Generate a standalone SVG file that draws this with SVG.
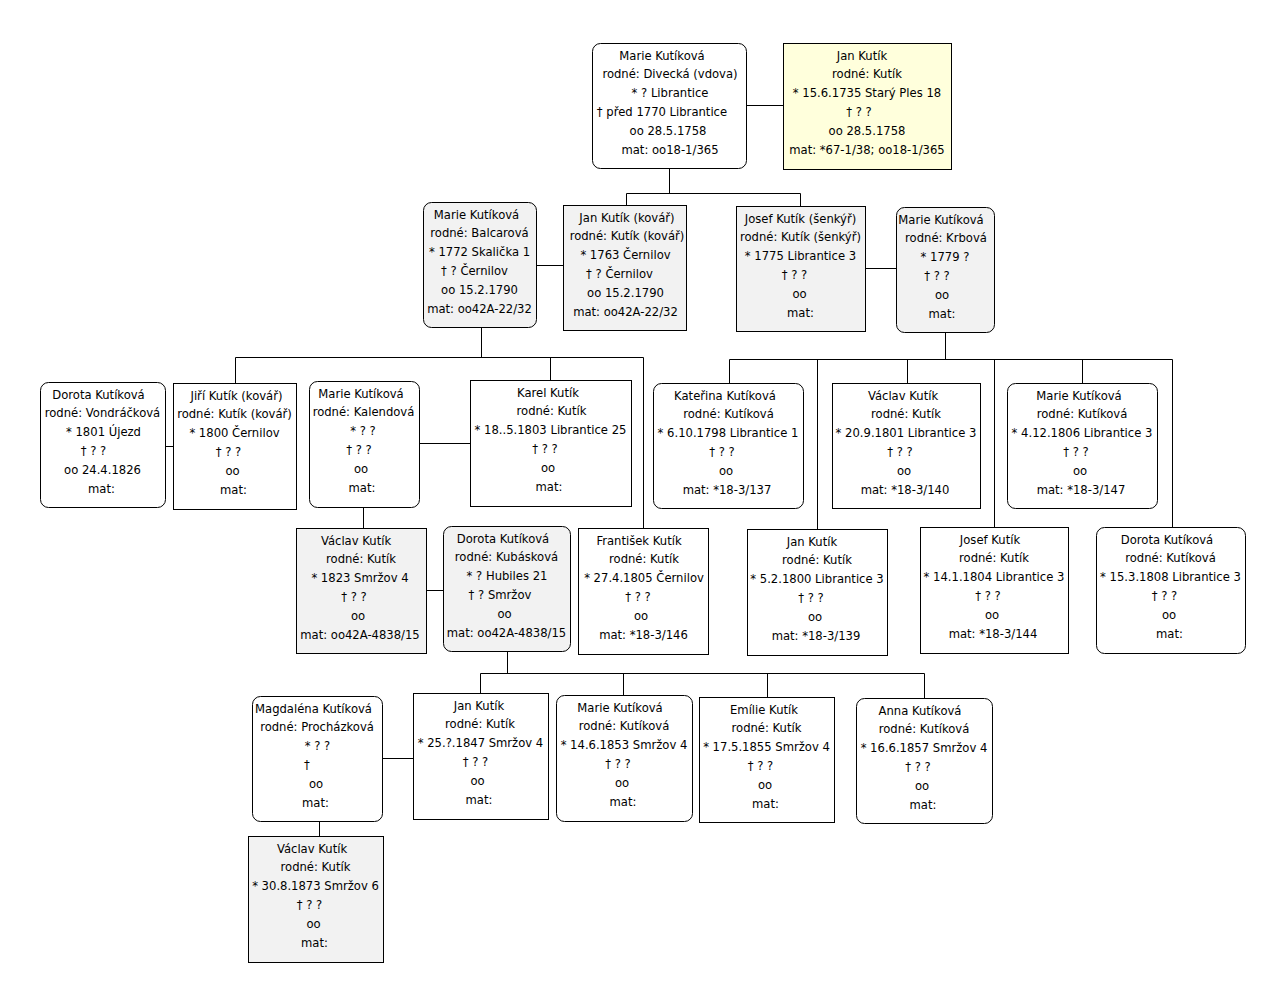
<svg xmlns="http://www.w3.org/2000/svg" width="1266" height="983" viewBox="0 0 1266 983">
<style>
.r{stroke:#000;stroke-width:1;fill:#fff}
.g{fill:#f2f2f2}
.y{fill:#ffffdc}
.t{font-family:"DejaVu Sans",Tahoma,Verdana,sans-serif;font-size:11.6px;fill:#000;text-anchor:middle}
.c{stroke:#000;stroke-width:1;fill:none}
</style>
<rect width="1266" height="983" fill="#fff"/>
<g id="connectors" class="c">
<path d="M746.5 105.5H783.5"/>
<path d="M669.5 168.5V193.5M626.5 193.5H800.5M626.5 193.5V205.5M800.5 193.5V206.5"/>
<path d="M536.5 265.5H563.5"/>
<path d="M865.5 268.5H896.5"/>
<path d="M481.5 327.5V357.5M235.5 357.5H643.5M235.5 357.5V383.5M550.5 357.5V380.5M643.5 357.5V528.5"/>
<path d="M945.5 332.5V359.5M729.5 359.5H1172.5M729.5 359.5V383.5M817.5 359.5V529.5M907.5 359.5V383.5M994.5 359.5V527.5M1082.5 359.5V383.5M1172.5 359.5V527.5"/>
<path d="M165.5 446.5H173.5"/>
<path d="M419.5 443.5H470.5"/>
<path d="M363.5 507.5V528.5"/>
<path d="M426.5 590.5H443.5"/>
<path d="M507.5 651.5V673.5M480.5 673.5H924.5M480.5 673.5V693.5M623.5 673.5V695.5M767.5 673.5V697.5M924.5 673.5V698.5"/>
<path d="M382.5 758.5H413.5"/>
<path d="M319.5 821.5V836.5"/>
</g>

<g id="n_marie_divecka"><rect class="r" x="592.5" y="43.5" width="154" height="125" rx="8"/>
<text class="t" y="59.5"><tspan x="662">Marie Kutíková</tspan><tspan x="670" dy="18.9">rodné: Divecká (vdova)</tspan><tspan x="670" dy="18.9">* ? Librantice</tspan><tspan x="662" dy="18.9">† před 1770 Librantice</tspan><tspan x="668" dy="18.9">oo 28.5.1758</tspan><tspan x="670" dy="18.9">mat: oo18-1/365</tspan></text></g>

<g id="n_jan_1735"><rect class="r y" x="783.5" y="43.5" width="168" height="126"/>
<text class="t" y="59.5"><tspan x="862">Jan Kutík</tspan><tspan x="867" dy="18.9">rodné: Kutík</tspan><tspan x="867" dy="18.9">* 15.6.1735 Starý Ples 18</tspan><tspan x="859" dy="18.9">† ? ?</tspan><tspan x="867" dy="18.9">oo 28.5.1758</tspan><tspan x="867" dy="18.9">mat: *67-1/38; oo18-1/365</tspan></text></g>

<g id="n_marie_balcarova"><rect class="r g" x="423.5" y="202.5" width="113" height="125" rx="8"/>
<text class="t" y="218.5"><tspan x="476.5">Marie Kutíková</tspan><tspan x="479.5" dy="18.9">rodné: Balcarová</tspan><tspan x="479.5" dy="18.9">* 1772 Skalička 1</tspan><tspan x="474.5" dy="18.9">† ? Černilov</tspan><tspan x="479.5" dy="18.9">oo 15.2.1790</tspan><tspan x="479.5" dy="18.9">mat: oo42A-22/32</tspan></text></g>

<g id="n_jan_kovar"><rect class="r g" x="563.5" y="205.5" width="123" height="125"/>
<text class="t" y="221.5"><tspan x="627">Jan Kutík (kovář)</tspan><tspan x="627" dy="18.9">rodné: Kutík (kovář)</tspan><tspan x="625.5" dy="18.9">* 1763 Černilov</tspan><tspan x="619.5" dy="18.9">† ? Černilov</tspan><tspan x="625.5" dy="18.9">oo 15.2.1790</tspan><tspan x="625.5" dy="18.9">mat: oo42A-22/32</tspan></text></g>

<g id="n_josef_senkyr"><rect class="r g" x="736.5" y="206.5" width="129" height="125"/>
<text class="t" y="222.5"><tspan x="800.5">Josef Kutík (šenkýř)</tspan><tspan x="800.5" dy="18.9">rodné: Kutík (šenkýř)</tspan><tspan x="800.5" dy="18.9">* 1775 Librantice 3</tspan><tspan x="794.5" dy="18.9">† ? ?</tspan><tspan x="799.5" dy="18.9">oo</tspan><tspan x="800.5" dy="18.9">mat:</tspan></text></g>

<g id="n_marie_krbova"><rect class="r g" x="896.5" y="207.5" width="98" height="125" rx="8"/>
<text class="t" y="223.5"><tspan x="941">Marie Kutíková</tspan><tspan x="946" dy="18.9">rodné: Krbová</tspan><tspan x="945" dy="18.9">* 1779 ?</tspan><tspan x="937" dy="18.9">† ? ?</tspan><tspan x="942" dy="18.9">oo</tspan><tspan x="942" dy="18.9">mat:</tspan></text></g>

<g id="n_dorota_vondrackova"><rect class="r" x="40.5" y="382.5" width="125" height="125" rx="8"/>
<text class="t" y="398.5"><tspan x="98.5">Dorota Kutíková</tspan><tspan x="102.5" dy="18.9">rodné: Vondráčková</tspan><tspan x="103.5" dy="18.9">* 1801 Újezd</tspan><tspan x="93.5" dy="18.9">† ? ?</tspan><tspan x="102.5" dy="18.9">oo 24.4.1826</tspan><tspan x="101.5" dy="18.9">mat:</tspan></text></g>

<g id="n_jiri_kovar"><rect class="r" x="173.5" y="383.5" width="123" height="126"/>
<text class="t" y="399.5"><tspan x="236.5">Jiří Kutík (kovář)</tspan><tspan x="234.5" dy="18.9">rodné: Kutík (kovář)</tspan><tspan x="234.5" dy="18.9">* 1800 Černilov</tspan><tspan x="228.5" dy="18.9">† ? ?</tspan><tspan x="232.5" dy="18.9">oo</tspan><tspan x="233.5" dy="18.9">mat:</tspan></text></g>

<g id="n_marie_kalendova"><rect class="r" x="309.5" y="381.5" width="110" height="126" rx="8"/>
<text class="t" y="397.5"><tspan x="361">Marie Kutíková</tspan><tspan x="363.5" dy="18.9">rodné: Kalendová</tspan><tspan x="363" dy="18.9">* ? ?</tspan><tspan x="359" dy="18.9">† ? ?</tspan><tspan x="361" dy="18.9">oo</tspan><tspan x="362" dy="18.9">mat:</tspan></text></g>

<g id="n_karel"><rect class="r" x="470.5" y="380.5" width="161" height="126"/>
<text class="t" y="396.5"><tspan x="548">Karel Kutík</tspan><tspan x="551.5" dy="18.9">rodné: Kutík</tspan><tspan x="550.5" dy="18.9">* 18..5.1803 Librantice 25</tspan><tspan x="545" dy="18.9">† ? ?</tspan><tspan x="548" dy="18.9">oo</tspan><tspan x="549" dy="18.9">mat:</tspan></text></g>

<g id="n_katerina"><rect class="r" x="653.5" y="383.5" width="150" height="125" rx="8"/>
<text class="t" y="399.5"><tspan x="725">Kateřina Kutíková</tspan><tspan x="728.5" dy="18.9">rodné: Kutíková</tspan><tspan x="728" dy="18.9">* 6.10.1798 Librantice 1</tspan><tspan x="722" dy="18.9">† ? ?</tspan><tspan x="726" dy="18.9">oo</tspan><tspan x="727" dy="18.9">mat: *18-3/137</tspan></text></g>

<g id="n_vaclav_1801"><rect class="r" x="832.5" y="383.5" width="148" height="125"/>
<text class="t" y="399.5"><tspan x="903">Václav Kutík</tspan><tspan x="906" dy="18.9">rodné: Kutík</tspan><tspan x="906" dy="18.9">* 20.9.1801 Librantice 3</tspan><tspan x="900" dy="18.9">† ? ?</tspan><tspan x="904" dy="18.9">oo</tspan><tspan x="905" dy="18.9">mat: *18-3/140</tspan></text></g>

<g id="n_marie_1806"><rect class="r" x="1007.5" y="383.5" width="150" height="125" rx="8"/>
<text class="t" y="399.5"><tspan x="1079">Marie Kutíková</tspan><tspan x="1082" dy="18.9">rodné: Kutíková</tspan><tspan x="1082" dy="18.9">* 4.12.1806 Librantice 3</tspan><tspan x="1076" dy="18.9">† ? ?</tspan><tspan x="1080" dy="18.9">oo</tspan><tspan x="1081" dy="18.9">mat: *18-3/147</tspan></text></g>

<g id="n_vaclav_1823"><rect class="r g" x="296.5" y="528.5" width="130" height="125"/>
<text class="t" y="544.5"><tspan x="356">Václav Kutík</tspan><tspan x="361" dy="18.9">rodné: Kutík</tspan><tspan x="360" dy="18.9">* 1823 Smržov 4</tspan><tspan x="354" dy="18.9">† ? ?</tspan><tspan x="358" dy="18.9">oo</tspan><tspan x="360" dy="18.9">mat: oo42A-4838/15</tspan></text></g>

<g id="n_dorota_kubaskova"><rect class="r g" x="443.5" y="526.5" width="127" height="125" rx="8"/>
<text class="t" y="542.5"><tspan x="503">Dorota Kutíková</tspan><tspan x="506.5" dy="18.9">rodné: Kubásková</tspan><tspan x="507" dy="18.9">* ? Hubiles 21</tspan><tspan x="500" dy="18.9">† ? Smržov</tspan><tspan x="504.5" dy="18.9">oo</tspan><tspan x="506.5" dy="18.9">mat: oo42A-4838/15</tspan></text></g>

<g id="n_frantisek"><rect class="r" x="578.5" y="528.5" width="130" height="126"/>
<text class="t" y="544.5"><tspan x="639">František Kutík</tspan><tspan x="644" dy="18.9">rodné: Kutík</tspan><tspan x="644" dy="18.9">* 27.4.1805 Černilov</tspan><tspan x="638" dy="18.9">† ? ?</tspan><tspan x="641" dy="18.9">oo</tspan><tspan x="643.5" dy="18.9">mat: *18-3/146</tspan></text></g>

<g id="n_jan_1800"><rect class="r" x="747.5" y="529.5" width="140" height="126"/>
<text class="t" y="545.5"><tspan x="812">Jan Kutík</tspan><tspan x="817" dy="18.9">rodné: Kutík</tspan><tspan x="817" dy="18.9">* 5.2.1800 Librantice 3</tspan><tspan x="811" dy="18.9">† ? ?</tspan><tspan x="815" dy="18.9">oo</tspan><tspan x="816" dy="18.9">mat: *18-3/139</tspan></text></g>

<g id="n_josef_1804"><rect class="r" x="920.5" y="527.5" width="148" height="126"/>
<text class="t" y="543.5"><tspan x="990">Josef Kutík</tspan><tspan x="994" dy="18.9">rodné: Kutík</tspan><tspan x="994" dy="18.9">* 14.1.1804 Librantice 3</tspan><tspan x="988" dy="18.9">† ? ?</tspan><tspan x="992" dy="18.9">oo</tspan><tspan x="993" dy="18.9">mat: *18-3/144</tspan></text></g>

<g id="n_dorota_1808"><rect class="r" x="1096.5" y="527.5" width="149" height="126" rx="8"/>
<text class="t" y="543.5"><tspan x="1167">Dorota Kutíková</tspan><tspan x="1170.5" dy="18.9">rodné: Kutíková</tspan><tspan x="1170.5" dy="18.9">* 15.3.1808 Librantice 3</tspan><tspan x="1164.5" dy="18.9">† ? ?</tspan><tspan x="1169" dy="18.9">oo</tspan><tspan x="1169.5" dy="18.9">mat:</tspan></text></g>

<g id="n_magdalena"><rect class="r" x="252.5" y="696.5" width="130" height="125" rx="8"/>
<text class="t" y="712.5"><tspan x="313.5">Magdaléna Kutíková</tspan><tspan x="317" dy="18.9">rodné: Procházková</tspan><tspan x="317.5" dy="18.9">* ? ?</tspan><tspan x="307" dy="18.9">†</tspan><tspan x="316" dy="18.9">oo</tspan><tspan x="315.5" dy="18.9">mat:</tspan></text></g>

<g id="n_jan_1847"><rect class="r" x="413.5" y="693.5" width="135" height="126"/>
<text class="t" y="709.5"><tspan x="479">Jan Kutík</tspan><tspan x="480" dy="18.9">rodné: Kutík</tspan><tspan x="480.5" dy="18.9">* 25.?.1847 Smržov 4</tspan><tspan x="475.5" dy="18.9">† ? ?</tspan><tspan x="477.5" dy="18.9">oo</tspan><tspan x="479" dy="18.9">mat:</tspan></text></g>

<g id="n_marie_1853"><rect class="r" x="556.5" y="695.5" width="136" height="126" rx="8"/>
<text class="t" y="711.5"><tspan x="620">Marie Kutíková</tspan><tspan x="624" dy="18.9">rodné: Kutíková</tspan><tspan x="624" dy="18.9">* 14.6.1853 Smržov 4</tspan><tspan x="618" dy="18.9">† ? ?</tspan><tspan x="622" dy="18.9">oo</tspan><tspan x="623" dy="18.9">mat:</tspan></text></g>

<g id="n_emilie"><rect class="r" x="699.5" y="697.5" width="135" height="125"/>
<text class="t" y="713.5"><tspan x="764">Emílie Kutík</tspan><tspan x="766.5" dy="18.9">rodné: Kutík</tspan><tspan x="766.5" dy="18.9">* 17.5.1855 Smržov 4</tspan><tspan x="760.5" dy="18.9">† ? ?</tspan><tspan x="765" dy="18.9">oo</tspan><tspan x="765.5" dy="18.9">mat:</tspan></text></g>

<g id="n_anna"><rect class="r" x="856.5" y="698.5" width="136" height="125" rx="8"/>
<text class="t" y="714.5"><tspan x="920">Anna Kutíková</tspan><tspan x="924" dy="18.9">rodné: Kutíková</tspan><tspan x="924" dy="18.9">* 16.6.1857 Smržov 4</tspan><tspan x="918" dy="18.9">† ? ?</tspan><tspan x="922" dy="18.9">oo</tspan><tspan x="923" dy="18.9">mat:</tspan></text></g>

<g id="n_vaclav_1873"><rect class="r g" x="248.5" y="836.5" width="135" height="126"/>
<text class="t" y="852.5"><tspan x="312">Václav Kutík</tspan><tspan x="315.5" dy="18.9">rodné: Kutík</tspan><tspan x="315.5" dy="18.9">* 30.8.1873 Smržov 6</tspan><tspan x="309.5" dy="18.9">† ? ?</tspan><tspan x="313.5" dy="18.9">oo</tspan><tspan x="314.5" dy="18.9">mat:</tspan></text></g>
</svg>
